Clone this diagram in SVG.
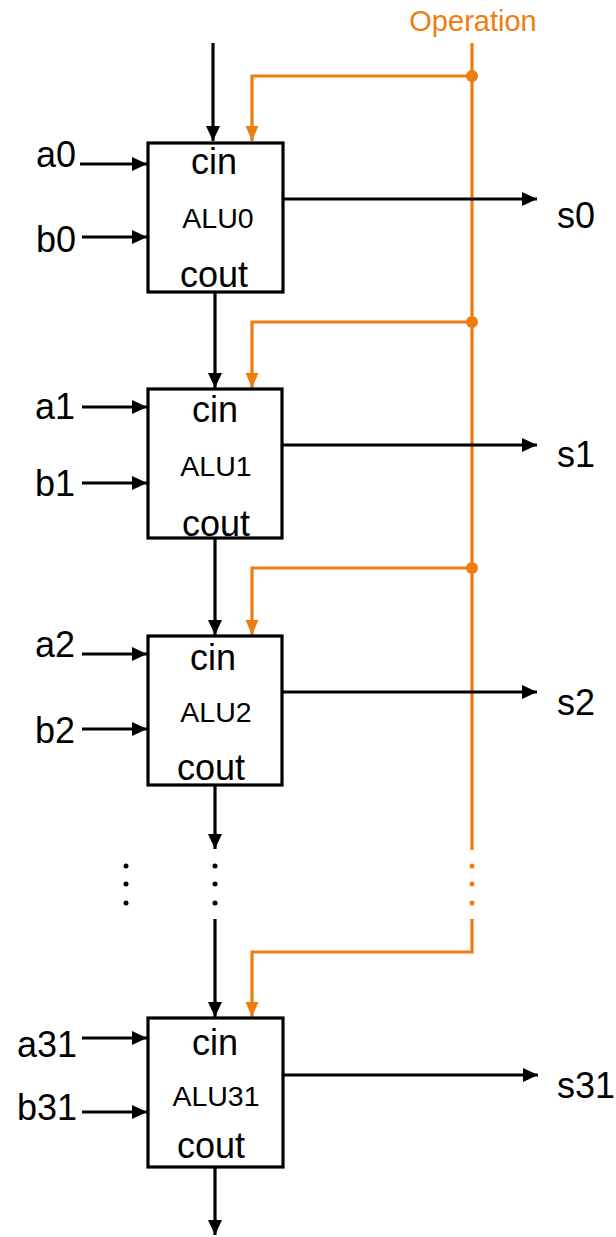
<svg xmlns="http://www.w3.org/2000/svg" width="616" height="1237" viewBox="0 0 616 1237">
<style>
.box{fill:#fff;stroke:#000;stroke-width:3.2}
.w{fill:none;stroke:#000;stroke-width:3.2}
.o{fill:none;stroke:#ED7D0F;stroke-width:3.2}
.t{font-family:"Liberation Sans",Arial,sans-serif;fill:#000}
.big{font-size:36px}
.alu{font-size:28.5px}
.op{font-family:"Liberation Sans",Arial,sans-serif;font-size:29px;fill:#ED7D0F}
</style>
<defs>
<marker id="ab" markerUnits="userSpaceOnUse" markerWidth="16" markerHeight="16" refX="15" refY="8" orient="auto"><path d="M0,1 L15,8 L0,15 z" fill="#000"/></marker>
<marker id="ao" markerUnits="userSpaceOnUse" markerWidth="16" markerHeight="16" refX="15" refY="8" orient="auto"><path d="M0,1.5 L15,8 L0,14.5 z" fill="#ED7D0F"/></marker>
</defs>
<rect width="616" height="1237" fill="#fff"/>
<g id="connectors">
<path class="o" d="M472,43 V850"/>
<path class="o" d="M472,919 V952 H252 V1017" marker-end="url(#ao)"/>
<path class="o" d="M472,76 H252 V141" marker-end="url(#ao)"/>
<path class="o" d="M472,322 H252 V388" marker-end="url(#ao)"/>
<path class="o" d="M472,568 H252 V635" marker-end="url(#ao)"/>
<circle cx="472" cy="76" r="6" fill="#ED7D0F"/>
<circle cx="472" cy="322" r="6" fill="#ED7D0F"/>
<circle cx="472" cy="568" r="6" fill="#ED7D0F"/>
<path class="w" d="M213,43 V141" marker-end="url(#ab)"/>
<path class="w" d="M215,292 V388" marker-end="url(#ab)"/>
<path class="w" d="M215,538 V635" marker-end="url(#ab)"/>
<path class="w" d="M215,785 V849" marker-end="url(#ab)"/>
<path class="w" d="M215,919 V1017" marker-end="url(#ab)"/>
<path class="w" d="M215,1167 V1235" marker-end="url(#ab)"/>
<path class="w" d="M80,164 H147" marker-end="url(#ab)"/>
<path class="w" d="M82,237 H147" marker-end="url(#ab)"/>
<path class="w" d="M82,407 H147" marker-end="url(#ab)"/>
<path class="w" d="M82,483 H147" marker-end="url(#ab)"/>
<path class="w" d="M82,654 H147" marker-end="url(#ab)"/>
<path class="w" d="M82,729 H147" marker-end="url(#ab)"/>
<path class="w" d="M82,1038 H147" marker-end="url(#ab)"/>
<path class="w" d="M82,1112 H147" marker-end="url(#ab)"/>
<path class="w" d="M283,199 H537" marker-end="url(#ab)"/>
<path class="w" d="M283,445 H537" marker-end="url(#ab)"/>
<path class="w" d="M283,692 H537" marker-end="url(#ab)"/>
<path class="w" d="M283,1075 H538" marker-end="url(#ab)"/>
<g fill="#000">
<circle cx="126" cy="866" r="2.5"/><circle cx="126" cy="884" r="2.5"/><circle cx="126" cy="903" r="2.5"/>
<circle cx="215" cy="866" r="2.5"/><circle cx="215" cy="884" r="2.5"/><circle cx="215" cy="903" r="2.5"/>
</g>
<g fill="#ED7D0F">
<circle cx="472" cy="866" r="2.5"/><circle cx="472" cy="884" r="2.5"/><circle cx="472" cy="903" r="2.5"/>
</g>
</g>
<text class="op" x="473" y="31" text-anchor="middle">Operation</text>
<g id="alu0">
<rect class="box" x="148" y="143" width="135" height="149"/>
<text class="t big" x="214" y="174" text-anchor="middle">cin</text>
<text class="t alu" x="218" y="228" text-anchor="middle">ALU0</text>
<text class="t big" x="214" y="287" text-anchor="middle">cout</text>
<text class="t big" x="76" y="167" text-anchor="end">a0</text>
<text class="t big" x="76" y="252" text-anchor="end">b0</text>
<text class="t big" x="557" y="228">s0</text>
</g>
<g id="alu1">
<rect class="box" x="148" y="389" width="134" height="149"/>
<text class="t big" x="215" y="422" text-anchor="middle">cin</text>
<text class="t alu" x="216" y="476" text-anchor="middle">ALU1</text>
<text class="t big" x="216" y="536" text-anchor="middle">cout</text>
<text class="t big" x="75" y="419" text-anchor="end">a1</text>
<text class="t big" x="75" y="496" text-anchor="end">b1</text>
<text class="t big" x="557" y="467">s1</text>
</g>
<g id="alu2">
<rect class="box" x="148" y="636" width="134" height="149"/>
<text class="t big" x="213" y="670" text-anchor="middle">cin</text>
<text class="t alu" x="216" y="722" text-anchor="middle">ALU2</text>
<text class="t big" x="211" y="780" text-anchor="middle">cout</text>
<text class="t big" x="75" y="657" text-anchor="end">a2</text>
<text class="t big" x="75" y="743" text-anchor="end">b2</text>
<text class="t big" x="557" y="715">s2</text>
</g>
<g id="alu31">
<rect class="box" x="148" y="1018" width="135" height="149"/>
<text class="t big" x="215" y="1055" text-anchor="middle">cin</text>
<text class="t alu" x="216" y="1106" text-anchor="middle">ALU31</text>
<text class="t big" x="211" y="1158" text-anchor="middle">cout</text>
<text class="t big" x="77" y="1057" text-anchor="end">a31</text>
<text class="t big" x="77" y="1120" text-anchor="end">b31</text>
<text class="t big" x="557" y="1098">s31</text>
</g>
</svg>
